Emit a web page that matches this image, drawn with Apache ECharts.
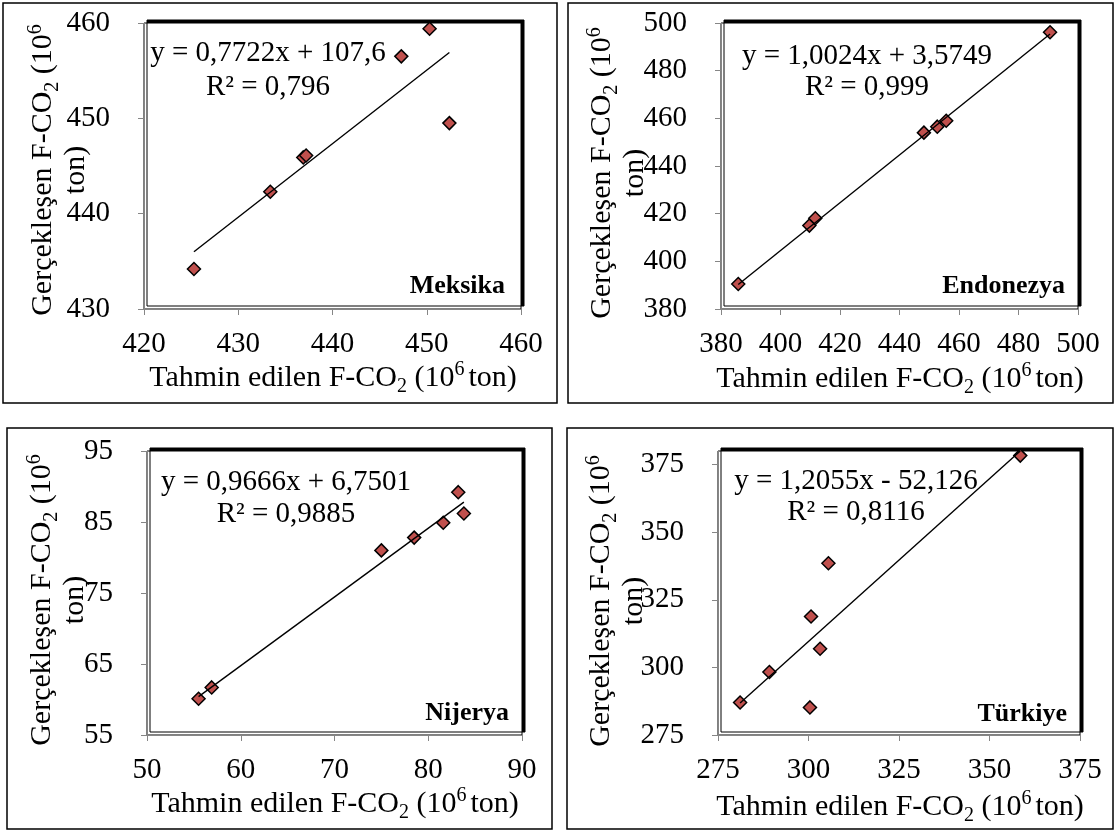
<!DOCTYPE html>
<html>
<head>
<meta charset="utf-8">
<script src="https://cdn.jsdelivr.net/npm/echarts@6.0.0/dist/echarts.min.js"></script>
<style>
html, body { margin: 0; padding: 0; background: #fff; }
#chart { width: 1116px; height: 832px; }
</style>
</head>
<body>
<div id="chart"></div>
<script>
// Meksika
var mexPredicted = [425.3, 433.4, 436.9, 437.2, 447.3, 450.3, 452.4];
var mexActual    = [434.2, 442.3, 445.9, 446.1, 456.5, 459.4, 449.5];
var mexTrend     = [[425.3, 436.0], [452.4, 456.9]];
var mexTicksX    = [420, 430, 440, 450, 460];
var mexTicksY    = [430, 440, 450, 460];

// Endonezya
var idnPredicted = [385.8, 409.7, 411.7, 448.2, 452.7, 455.7, 490.6];
var idnActual    = [390.5, 415.0, 418.1, 454.0, 456.5, 459.0, 496.1];
var idnTrend     = [[385.8, 390.3], [490.6, 495.4]];
var idnTicksX    = [380, 400, 420, 440, 460, 480, 500];
var idnTicksY    = [380, 400, 420, 440, 460, 480, 500];

// Nijerya
var ngaPredicted = [55.5, 56.9, 75.0, 78.5, 81.6, 83.2, 83.8];
var ngaActual    = [60.1, 61.7, 81.0, 82.8, 84.9, 89.2, 86.2];
var ngaTrend     = [[55.5, 60.4], [83.8, 87.8]];
var ngaTicksX    = [50, 60, 70, 80, 90];
var ngaTicksY    = [55, 65, 75, 85, 95];

// Türkiye
var turPredicted = [281.1, 289.2, 300.4, 300.7, 303.2, 305.5, 358.5];
var turActual    = [287.0, 298.3, 285.2, 318.8, 306.9, 338.5, 378.3];
var turTrend     = [[281.1, 286.8], [358.5, 380.0]];
var turTicksX    = [275, 300, 325, 350, 375];
var turTicksY    = [275, 300, 325, 350, 375];
var turMaxY      = 380;

var countries = ['Meksika', 'Endonezya', 'Nijerya', 'Türkiye'];
var equations = ['y = 0,7722x + 107,6', 'y = 1,0024x + 3,5749', 'y = 0,9666x + 6,7501', 'y = 1,2055x - 52,126'];
var rSquared  = ['R² = 0,796', 'R² = 0,999', 'R² = 0,9885', 'R² = 0,8116'];

var panels = [
    {x: mexPredicted, y: mexActual, trend: mexTrend, tx: mexTicksX, ty: mexTicksY, ymax: mexTicksY[mexTicksY.length - 1]},
    {x: idnPredicted, y: idnActual, trend: idnTrend, tx: idnTicksX, ty: idnTicksY, ymax: idnTicksY[idnTicksY.length - 1]},
    {x: ngaPredicted, y: ngaActual, trend: ngaTrend, tx: ngaTicksX, ty: ngaTicksY, ymax: ngaTicksY[ngaTicksY.length - 1]},
    {x: turPredicted, y: turActual, trend: turTrend, tx: turTicksX, ty: turTicksY, ymax: turMaxY}
];

// positions only (pixels)
var layout = [
    {box: [3, 3, 554, 400],   grid: [144, 23, 377, 286], eq: [268, 53, 87],   name: [505, 286],  xt: [333, 378], yt: [60, 170]},
    {box: [568, 3, 545, 400], grid: [721, 23, 357, 286], eq: [867, 56, 87],   name: [1065, 286], xt: [900, 379], yt: [619, 173]},
    {box: [7, 428, 545, 401], grid: [147, 451, 375, 284], eq: [286, 482, 514], name: [509, 713], xt: [335, 804], yt: [59, 600]},
    {box: [567, 428, 546, 401], grid: [718, 451, 362, 284], eq: [856, 481, 512], name: [1067, 714], xt: [900, 807], yt: [618, 601]}
];

var FONT = 'Liberation Serif';
var richTitle = {
    a: {fontFamily: FONT, fontSize: 30, lineHeight: 33, color: '#000', verticalAlign: 'middle'},
    s: {fontFamily: FONT, fontSize: 20, lineHeight: 20, color: '#000', verticalAlign: 'middle', padding: [18, 0, 0, 0]},
    p: {fontFamily: FONT, fontSize: 20, lineHeight: 20, color: '#000', verticalAlign: 'middle', padding: [0, 0, 16, 0]},
    q: {fontFamily: FONT, fontSize: 20, lineHeight: 20, color: '#000', verticalAlign: 'middle', padding: [0, 4, 16, 0]}
};

function pairs(xs, ys) {
    var out = [];
    for (var i = 0; i < xs.length; i++) out.push([xs[i], ys[i]]);
    return out;
}

function textEl(x, y, text, font, align, extra) {
    var st = {
        text: text, font: font, fill: '#000',
        align: align, textAlign: align,
        verticalAlign: 'middle', textVerticalAlign: 'middle'
    };
    if (extra) for (var k in extra) st[k] = extra[k];
    return {type: 'text', x: x, y: y, z: 100, style: st};
}

var grids = [], xAxes = [], yAxes = [], series = [], graphics = [];

for (var i = 0; i < panels.length; i++) {
    var p = panels[i], L = layout[i];
    grids.push({
        left: L.grid[0], top: L.grid[1], width: L.grid[2], height: L.grid[3],
        show: true, backgroundColor: '#fff', borderColor: '#000', borderWidth: 1,
        shadowColor: '#000', shadowBlur: 0, shadowOffsetX: 3, shadowOffsetY: -3
    });
    var axisCommon = {
        type: 'value',
        axisLine: {show: true, lineStyle: {color: '#868686', width: 1}},
        axisTick: {show: true, length: 6, lineStyle: {color: '#868686'}},
        splitLine: {show: false}
    };
    xAxes.push(Object.assign({}, axisCommon, {
        gridIndex: i, min: p.tx[0], max: p.tx[p.tx.length - 1], interval: p.tx[1] - p.tx[0],
        axisTick: Object.assign({}, axisCommon.axisTick, {customValues: p.tx}),
        axisLabel: {customValues: p.tx, color: '#000', fontFamily: FONT, fontSize: 29, margin: 35, verticalAlign: 'middle'}
    }));
    yAxes.push(Object.assign({}, axisCommon, {
        gridIndex: i, min: p.ty[0], max: p.ymax, interval: p.ty[1] - p.ty[0],
        axisTick: Object.assign({}, axisCommon.axisTick, {customValues: p.ty}),
        axisLabel: {customValues: p.ty, color: '#000', fontFamily: FONT, fontSize: 29, margin: 34}
    }));
    series.push({
        type: 'scatter', xAxisIndex: i, yAxisIndex: i, z: 3,
        symbol: 'diamond', symbolSize: 13,
        itemStyle: {color: '#c0504d', borderColor: '#000', borderWidth: 1.5, opacity: 1},
        data: pairs(p.x, p.y)
    });
    series.push({
        type: 'line', xAxisIndex: i, yAxisIndex: i, z: 4,
        showSymbol: false, silent: true,
        lineStyle: {color: '#000', width: 1.4},
        data: p.trend
    });

    graphics.push({type: 'rect', z: -1, shape: {x: L.box[0], y: L.box[1], width: L.box[2], height: L.box[3]},
        style: {fill: 'none', stroke: '#000', lineWidth: 1.5}});
    graphics.push(textEl(L.eq[0], L.eq[1], equations[i], '29px "' + FONT + '"', 'center'));
    graphics.push(textEl(L.eq[0], L.eq[2], rSquared[i], '29px "' + FONT + '"', 'center'));
    graphics.push(textEl(L.name[0], L.name[1], countries[i], 'bold 26px "' + FONT + '"', 'right'));
    graphics.push(textEl(L.xt[0], L.xt[1], '{a|Tahmin edilen F-CO}{s|2}{a| (10}{q|6}{a|ton)}', '30px "' + FONT + '"', 'center', {rich: richTitle}));
    var yt = textEl(L.yt[0], L.yt[1], '{a|Gerçekleşen F-CO}{s|2}{a| (10}{p|6}\n{a|ton)}', '30px "' + FONT + '"', 'center', {rich: richTitle});
    yt.rotation = Math.PI / 2;
    graphics.push(yt);
}

var chart = echarts.init(document.getElementById('chart'));
chart.setOption({
    backgroundColor: '#fff',
    animation: false,
    grid: grids,
    xAxis: xAxes,
    yAxis: yAxes,
    series: series,
    graphic: {elements: graphics}
});
</script>
</body>
</html>
